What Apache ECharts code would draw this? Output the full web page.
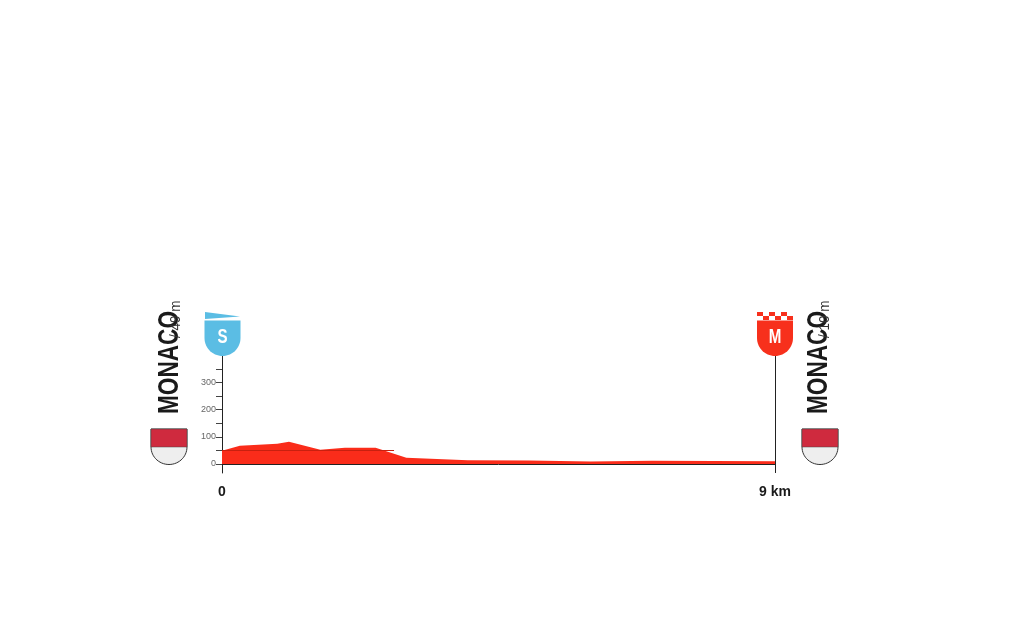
<!DOCTYPE html>
<html><head><meta charset="utf-8">
<style>html,body{margin:0;padding:0;background:#fff}#c{width:1010px;height:644px}</style>
<script src="https://cdn.jsdelivr.net/npm/echarts@6/dist/echarts.min.js"></script>
</head><body><div id="c"></div>
<script>
var distanceKm = [0, 0.29, 0.9, 1.09, 1.6, 2, 2.5, 3, 4, 5, 6, 7, 8, 9];
var elevationM = [49, 67, 74, 82, 52, 60, 60, 23, 14, 13, 9, 12, 11, 10];
var yTicks = [0, 50, 100, 150, 200, 250, 300, 350];
var yLabels = [0, 100, 200, 300];
var xLabels = [0, 9];
var startName = 'MONACO', startAlt = '/ 49 m';
var finishName = 'MONACO', finishAlt = '/ 10 m';
var baseAltitude = 49;

var GL = 222, GR = 775, G0 = 464, PX = 0.272;
var GT = G0 - 400 * PX, GB = G0 + 33 * PX;
var chart = echarts.init(document.getElementById('c'));
var cond = '"Liberation Sans Narrow","Liberation Sans",sans-serif';

function shieldPts(cx, top, straight, bottom) {
  var pts = [[cx-18, top],[cx+18, top]];
  for (var a = 0; a <= 180; a += 6) {
    var t = a * Math.PI / 180;
    pts.push([cx + 18 * Math.cos(t), straight + (bottom - straight) * Math.sin(t)]);
  }
  return pts;
}
function crest(cx) {
  return [
    {type:'polygon', z:10, shape:{points:shieldPts(cx, 429, 447, 464.5)}, style:{fill:'#eeeeee', stroke:'#333', lineWidth:1}},
    {type:'rect', z:11, shape:{x:cx-18, y:429, width:36, height:18}, style:{fill:'#cf2a3e', stroke:'#444', lineWidth:0.5}}
  ];
}
var g = [];
g.push({type:'polygon', z:10, shape:{points:shieldPts(222.5, 320.5, 338, 356)}, style:{fill:'#5bbde4'}});
g.push({type:'polygon', z:10, shape:{points:[[205,312],[240,316.5],[205,319]]}, style:{fill:'#5bbde4'}});
g.push({type:'text', z:12, x:222.5, y:337, scaleX:0.72, style:{text:'S', fill:'#fff', font:'bold 21px '+cond, textAlign:'center', textVerticalAlign:'middle'}});
g.push({type:'polygon', z:10, shape:{points:shieldPts(775, 320.5, 338, 356)}, style:{fill:'#f7301c'}});
for (var r=0;r<2;r++) for (var i=0;i<6;i++) {
  if ((i+r)%2===0) g.push({type:'rect', z:10, shape:{x:757+i*6, y:312+r*4, width:6, height:4}, style:{fill:'#f7301c'}});
}
g.push({type:'text', z:12, x:775, y:337, scaleX:0.72, style:{text:'M', fill:'#fff', font:'bold 21px '+cond, textAlign:'center', textVerticalAlign:'middle'}});
g = g.concat(crest(169), crest(820));
function label(x, name, alt) {
  return [
    {type:'text', z:12, x:x, y:414, rotation:Math.PI/2, scaleX:0.78,
     style:{text:name, fill:'#1a1a1a', font:'bold 29px '+cond, textAlign:'left', textVerticalAlign:'middle'}},
    {type:'text', z:12, x:x+6, y:338, rotation:Math.PI/2, scaleX:0.9,
     style:{text:alt, fill:'#333', font:'15px '+cond, textAlign:'left', textVerticalAlign:'middle'}}
  ];
}
g = g.concat(label(170, startName, startAlt), label(819, finishName, finishAlt));

chart.setOption({
  animation:false,
  backgroundColor:'#fff',
  grid:{left:GL, width:GR-GL, top:GT, height:GB-GT},
  xAxis:{type:'value', min:0, max:9, axisLine:{onZero:true, lineStyle:{color:'#222', width:1}},
    axisTick:{show:false}, splitLine:{show:false},
    axisLabel:{customValues:xLabels, margin:12, color:'#1a1a1a', fontFamily:cond, fontWeight:'bold', fontSize:14,
      formatter:function(v){return v===9?'9 km':String(v);}}},
  yAxis:{type:'value', min:-33, max:400, splitLine:{show:false},
    axisLine:{onZero:false, lineStyle:{color:'#222', width:1}},
    axisTick:{show:true, customValues:yTicks, length:6, lineStyle:{color:'#444', width:1}},
    axisLabel:{customValues:yLabels, margin:6, color:'#666', fontSize:9, fontFamily:'"Liberation Sans",sans-serif'}},
  series:[{type:'line', symbol:'none', silent:true, clip:false,
    data:distanceKm.map(function(d,i){return [d, elevationM[i]];}),
    lineStyle:{width:0}, areaStyle:{color:'#fa2c1a', opacity:1, origin:0},
    markLine:{silent:true, symbol:'none', label:{show:false}, animation:false,
      data:[
        [{coord:[0,baseAltitude], lineStyle:{color:'#c8200f', width:1, type:'solid'}},{coord:[2.8,baseAltitude]}],
        [{coord:[9,-33], lineStyle:{color:'#222', width:1, type:'solid'}},{coord:[9,400]}]
      ]}
  }],
  graphic:g
});
</script></body></html>
